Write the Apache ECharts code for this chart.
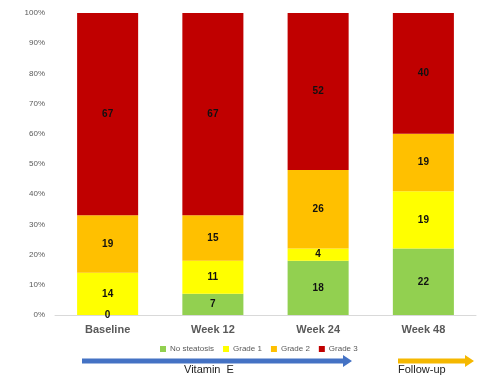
<!DOCTYPE html>
<html><head><meta charset="utf-8">
<script src="https://cdn.jsdelivr.net/npm/echarts@6/dist/echarts.min.js"></script>
<style>html,body{margin:0;padding:0;background:#fff}#c{width:500px;height:380px}</style>
</head><body><div id="c"></div>
<script>
const categories = ['Baseline', 'Week 12', 'Week 24', 'Week 48'];
const seriesNames = ['No steatosis', 'Grade 1', 'Grade 2', 'Grade 3'];
const noSteatosis = [0, 7, 18, 22];
const grade1 = [14, 11, 4, 19];
const grade2 = [19, 15, 26, 19];
const grade3 = [67, 67, 52, 40];
const yTicks = ['0%','10%','20%','30%','40%','50%','60%','70%','80%','90%','100%'];
const colors = ['#92D050', '#FFFF00', '#FFC000', '#C00000'];
const values = [noSteatosis, grade1, grade2, grade3];

const chart = echarts.init(document.getElementById('c'), null, {renderer: 'canvas'});
const font = 'Liberation Sans, Arial, Helvetica, sans-serif';
chart.setOption({
  animation: false,
  textStyle: {fontFamily: font},
  grid: {left: 55, right: 24, top: 13, bottom: 65},
  legend: {
    data: seriesNames, left: 155, top: 340, itemWidth: 6, itemHeight: 6, itemGap: 9,
    icon: 'rect', textStyle: {fontSize: 8, color: '#595959', fontFamily: font, padding: [0,0,0,-1]}
  },
  xAxis: {
    type: 'category', data: categories,
    axisLine: {lineStyle: {color: '#d9d9d9'}}, axisTick: {show: false},
    axisLabel: {fontSize: 11, fontWeight: 'bold', color: '#595959', margin: 9}
  },
  yAxis: {
    type: 'value', min: 0, max: 100, interval: 10,
    splitLine: {show: false}, axisLine: {show: false}, axisTick: {show: false},
    axisLabel: {fontSize: 8, color: '#595959', margin: 10,
      formatter: (v) => yTicks[Math.round(v / 10)]}
  },
  series: values.map((vals, i) => ({
    name: seriesNames[i], type: 'bar', stack: 'total', barWidth: '58%',
    data: vals, itemStyle: {color: colors[i]},
    label: {show: true, position: 'inside', fontSize: 10, fontWeight: 'bold', color: '#111'}
  })),
  graphic: [
    {type: 'polygon', shape: {points: [[82,358.5],[343,358.5],[343,355],[352,361],[343,367],[343,363.5],[82,363.5]]}, style: {fill: '#4472C4'}},
    {type: 'text', left: 184, top: 364, style: {text: 'Vitamin  E', fontSize: 11, fill: '#222', fontFamily: font}},
    {type: 'polygon', shape: {points: [[398,358.5],[465,358.5],[465,355],[474,361],[465,367],[465,363.5],[398,363.5]]}, style: {fill: '#F5B800'}},
    {type: 'text', left: 398, top: 364, style: {text: 'Follow-up', fontSize: 11, fill: '#222', fontFamily: font}}
  ]
});
</script></body></html>
